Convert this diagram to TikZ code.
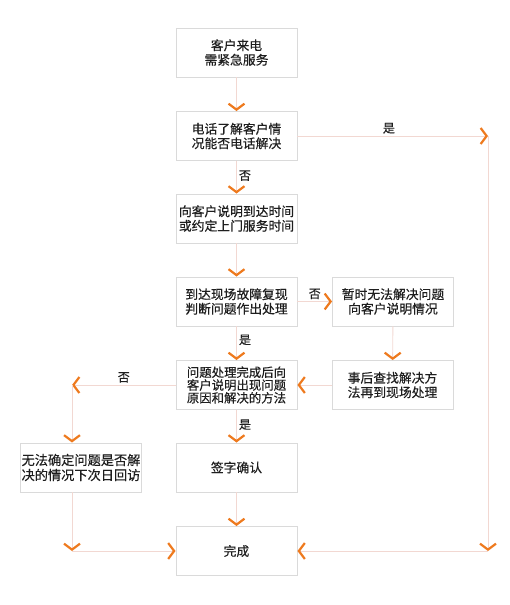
\documentclass[tikz,border=0pt]{standalone}
\usepackage{fontspec}
\newfontfamily\cjk[FakeBold=0.4]{Noto Sans CJK SC}
\usetikzlibrary{arrows.meta}
\definecolor{linkpink}{HTML}{F2D8D2}
\definecolor{chevron}{HTML}{EE7A1E}
\definecolor{boxgray}{HTML}{DADADA}
\definecolor{txtgray}{HTML}{1E1E1E}

\begin{document}
\begin{tikzpicture}[x=1pt, y=-1pt,
    >={Straight Barb[length=6pt, width=16pt, line width=2.2pt, color=chevron]},
    box/.style={draw=boxgray, line width=0.9pt, minimum width=121pt, minimum height=49pt,
      inner sep=0pt, align=center, text=txtgray, font=\cjk\fontsize{12.8}{14.5}\selectfont},
    link/.style={draw=linkpink, line width=0.9pt, ->},
    lbl/.style={text=txtgray, font=\cjk\fontsize{12}{13}\selectfont, inner sep=2pt}]
  \useasboundingbox (0,0) rectangle (510,605);

  \node[box] (call) at (236.5, 52.5) {客户来电\\需紧急服务};
  \node[box] (phone) at (236.5, 136) {电话了解客户情\\况能否电话解决};
  \node[box] (explain) at (236.5, 218.5) {向客户说明到达时间\\或约定上门服务时间};
  \node[box] (arrive) at (236.5, 301.5) {到达现场故障复现\\判断问题作出处理};
  \node[box] (cannot) at (393, 301.5) {暂时无法解决问题\\向客户说明情况};
  \node[box, font=\cjk\fontsize{12.4}{12.8}\selectfont] (resolve) at (236.5, 385)
    {问题处理完成后向\\客户说明出现问题\\原因和解决的方法};
  \node[box] (later) at (392.5, 385) {事后查找解决方\\法再到现场处理};
  \node[box, font=\cjk\fontsize{13.2}{15}\selectfont] (recheck) at (81, 467.5)
    {无法确定问题是否解\\决的情况下次日回访};
  \node[box] (sign) at (236.5, 467.5) {签字确认};
  \node[box] (finish) at (236.5, 551) {完成};

  \coordinate (tr) at (488, 136);
  \coordinate (br) at (488, 551);
  \coordinate (tl) at (72, 385);
  \coordinate (bl) at (72, 551);

  \draw[link] (call) -- (phone);
  \draw[link] (phone) -- node[lbl, right, pos=0.45] (no1) {否} (explain);
  \draw[link] (phone.east) -- node[lbl, above, pos=0.48] (yes1) {是} (tr);
  \draw[link] (tr) -- (br);
  \draw[link] (br) -- (finish.east);
  \draw[link] (explain) -- (arrive);
  \draw[link] (arrive.east) -- node[lbl, above] (no2) {否} (cannot.west);
  \draw[link] (arrive) -- node[lbl, right, pos=0.4] (yes2) {是} (resolve);
  \draw[link] (cannot) -- (later);
  \draw[link] (later.west) -- (resolve.east);
  \draw[link] (resolve.west) -- node[lbl, above] (no3) {否} (tl);
  \draw[link] (tl) -- (recheck.north -| tl);
  \draw[link] (resolve) -- node[lbl, right, pos=0.45] (yes3) {是} (sign);
  \draw[link] (recheck.south -| bl) -- (bl);
  \draw[link] (bl) -- (finish.west);
  \draw[link] (sign) -- (finish);
\end{tikzpicture}
\end{document}
